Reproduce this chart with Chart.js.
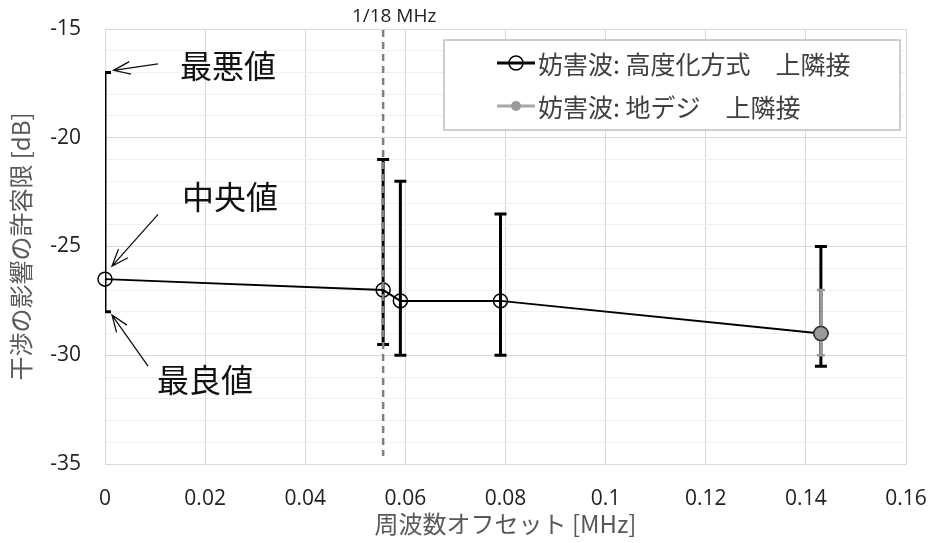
<!DOCTYPE html>
<html lang="ja">
<head>
<meta charset="utf-8">
<title>干渉の影響の許容限</title>
<script src="https://cdn.jsdelivr.net/npm/chart.js@4.4.1/dist/chart.umd.min.js"></script>
<style>
  html, body { margin: 0; padding: 0; background: #fff; }
  #chart { display: block; }
</style>
</head>
<body>
<canvas id="chart" width="934" height="543"></canvas>
<script>
/* ── data ────────────────────────────────────────────────── */
const offsetMHz   = [0, 1 / 18, 0.059, 0.079, 0.143];
const advMedian   = [-26.5, -27, -27.5, -27.5, -29];
const advWorst    = [-17, -21, -22, -23.5, -25];
const advBest     = [-28, -29.5, -30, -30, -30.5];

const dtvOffset   = [0.143];
const dtvMedian   = [-29];
const dtvWorst    = [-27];
const dtvBest     = [-30];

const seriesNames = ['妨害波: 高度化方式\u3000上隣接', '妨害波: 地デジ\u3000上隣接'];
const xTitle = '周波数オフセット [MHz]';
const yTitle = '干渉の影響の許容限 [dB]';
const refLineX = 1 / 18;
const refLineLabel = '1/18 MHz';

// callouts: label, text anchor, arrow tail, arrow tip (data units)
const callouts = [
    { text: '最悪値', at: [0.015, -16.7],  from: [0.0106, -16.6],  to: [0.0017, -16.9] },
    { text: '中央値', at: [0.0154, -22.7], from: [0.0106, -23.52], to: [0.0014, -25.9] },
    { text: '最良値', at: [0.0104, -31.15], from: [0.0086, -30.5], to: [0.0014, -28.15] }
];

const JP = '"Noto Sans CJK JP", "Noto Sans", sans-serif';
const NUM = '"Open Sans", "Noto Sans", sans-serif';

function toPoints(xs, ys) {
    return xs.map((x, i) => ({ x, y: ys[i] }));
}

/* ── plugins ─────────────────────────────────────────────── */
const errorBars = {
    id: 'errorBars',
    beforeDatasetDraw(chart, args) {
        const ds = chart.data.datasets[args.index];
        if (!ds.errHigh) return;
        const { ctx, chartArea: a, scales: { x, y } } = chart;
        ctx.save();
        ctx.beginPath();
        ctx.rect(a.left, a.top, a.width, a.height);
        ctx.clip();
        ctx.strokeStyle = ds.errColor;
        ctx.lineWidth = ds.errWidth;
        ds.data.forEach((p, i) => {
            const px = x.getPixelForValue(p.x);
            const top = y.getPixelForValue(ds.errHigh[i]);
            const bot = y.getPixelForValue(ds.errLow[i]);
            const c = ds.errCap;
            ctx.beginPath();
            ctx.moveTo(px, top); ctx.lineTo(px, bot);
            ctx.moveTo(px - c, top); ctx.lineTo(px + c, top);
            ctx.moveTo(px - c, bot); ctx.lineTo(px + c, bot);
            ctx.stroke();
        });
        ctx.restore();
    }
};

const extras = {
    id: 'extras',
    afterDatasetsDraw(chart) {
        const { ctx, chartArea: a, scales: { x, y } } = chart;

        // dashed reference line
        const rx = x.getPixelForValue(refLineX);
        ctx.save();
        ctx.strokeStyle = '#7f7f7f';
        ctx.lineWidth = 2.5;
        ctx.setLineDash([7, 5]);
        ctx.beginPath();
        ctx.moveTo(rx, a.top + 1);
        ctx.lineTo(rx, a.bottom - 8);
        ctx.stroke();
        ctx.restore();

        ctx.save();
        ctx.fillStyle = '#222';
        ctx.font = '19px ' + NUM;
        ctx.textAlign = 'center';
        ctx.textBaseline = 'middle';
        ctx.fillText(refLineLabel, rx + 11, a.top - 12);
        ctx.restore();

        // callouts
        ctx.save();
        ctx.strokeStyle = '#111';
        ctx.fillStyle = '#111';
        ctx.lineWidth = 1.3;
        ctx.font = '32px ' + JP;
        ctx.textBaseline = 'middle';
        callouts.forEach(c => {
            const x0 = x.getPixelForValue(c.from[0]), y0 = y.getPixelForValue(c.from[1]);
            const x1 = x.getPixelForValue(c.to[0]),   y1 = y.getPixelForValue(c.to[1]);
            const ang = Math.atan2(y0 - y1, x0 - x1);
            const len = 18, spread = 0.36;
            ctx.beginPath();
            ctx.moveTo(x0, y0); ctx.lineTo(x1, y1);
            ctx.moveTo(x1 + len * Math.cos(ang - spread), y1 + len * Math.sin(ang - spread));
            ctx.lineTo(x1, y1);
            ctx.lineTo(x1 + len * Math.cos(ang + spread), y1 + len * Math.sin(ang + spread));
            ctx.stroke();
            ctx.fillText(c.text, x.getPixelForValue(c.at[0]), y.getPixelForValue(c.at[1]));
        });
        ctx.restore();
    },
    afterDraw(chart) {
        const { ctx, chartArea: a } = chart;

        // axis titles
        ctx.save();
        ctx.fillStyle = '#595959';
        ctx.textAlign = 'center';
        ctx.textBaseline = 'middle';
        ctx.font = '24px ' + JP;
        ctx.fillText(xTitle, (a.left + a.right) / 2, 524);
        ctx.translate(21, (a.top + a.bottom) / 2);
        ctx.rotate(-Math.PI / 2);
        ctx.fillText(yTitle, 0, 0);
        ctx.restore();

        // legend box
        const box = { left: 444, top: 40, width: 456, height: 90 };
        ctx.save();
        ctx.fillStyle = '#fff';
        ctx.fillRect(box.left, box.top, box.width, box.height);
        ctx.strokeStyle = '#bfbfbf';
        ctx.lineWidth = 1.5;
        ctx.strokeRect(box.left, box.top, box.width, box.height);
        ctx.font = '25px ' + JP;
        ctx.textBaseline = 'middle';
        chart.data.datasets.forEach((ds, i) => {
            const ly = box.top + 23 + i * 43;
            ctx.strokeStyle = ds.borderColor;
            ctx.lineWidth = 3;
            ctx.beginPath();
            ctx.moveTo(497, ly); ctx.lineTo(535, ly);
            ctx.stroke();
            ctx.beginPath();
            if (ds.pointBackgroundColor === 'transparent') {
                ctx.lineWidth = 1.5;
                ctx.arc(516, ly, 7, 0, Math.PI * 2);
                ctx.stroke();
            } else {
                ctx.fillStyle = ds.pointBackgroundColor;
                ctx.arc(516, ly, 5, 0, Math.PI * 2);
                ctx.fill();
            }
            ctx.fillStyle = '#404040';
            ctx.fillText(ds.label, 538, ly + 1);
        });
        ctx.restore();
    }
};

/* ── chart ───────────────────────────────────────────────── */
new Chart(document.getElementById('chart'), {
    type: 'scatter',
    data: {
        datasets: [{
            label: seriesNames[0],
            data: toPoints(offsetMHz, advMedian),
            order: 2,
            showLine: true,
            borderColor: '#000',
            borderWidth: 2,
            pointRadius: 7,
            pointBorderWidth: 1.5,
            pointBorderColor: '#000',
            pointBackgroundColor: 'transparent',
            errHigh: advWorst,
            errLow: advBest,
            errColor: '#000',
            errWidth: 3,
            errCap: 6,
            clip: false
        }, {
            label: seriesNames[1],
            data: toPoints(dtvOffset, dtvMedian),
            order: 1,
            showLine: true,
            borderColor: '#a5a5a5',
            borderWidth: 2,
            pointRadius: 7,
            pointBorderWidth: 1.5,
            pointBorderColor: '#3a3a3a',
            pointBackgroundColor: '#9a9a9a',
            errHigh: dtvWorst,
            errLow: dtvBest,
            errColor: '#999',
            errWidth: 2.5,
            errCap: 4,
            clip: false
        }]
    },
    options: {
        responsive: false,
        animation: false,
        layout: { padding: { left: 0, top: 29, right: 28, bottom: 0 } },
        plugins: {
            legend: { display: false },
            tooltip: { enabled: false }
        },
        scales: {
            x: {
                type: 'linear',
                min: 0,
                max: 0.16,
                afterFit: s => {
                    s.height = 79;
                    s.paddingLeft = 0;
                    s.paddingRight = 0;
                },
                grid: { color: '#d9d9d9', drawTicks: false },
                border: { color: '#d9d9d9' },
                ticks: {
                    stepSize: 0.02,
                    autoSkip: false,
                    maxRotation: 0,
                    padding: 22,
                    color: '#222',
                    font: { family: NUM, size: 21 },
                    callback: v => String(parseFloat(v.toFixed(2)))
                }
            },
            y: {
                min: -35,
                max: -15,
                afterFit: s => {
                    s.width = 105;
                    s.paddingTop = 0;
                    s.paddingBottom = 0;
                },
                grid: {
                    drawTicks: false,
                    color: c => (c.tick.value % 5 === 0 ? '#d9d9d9' : '#f0f0f0')
                },
                border: { color: '#d9d9d9' },
                ticks: {
                    stepSize: 1,
                    autoSkip: false,
                    padding: 24,
                    color: '#222',
                    font: { family: NUM, size: 21 },
                    callback: v => (v % 5 === 0 ? String(v) : '')
                }
            }
        }
    },
    plugins: [errorBars, extras]
});
</script>
</body>
</html>
